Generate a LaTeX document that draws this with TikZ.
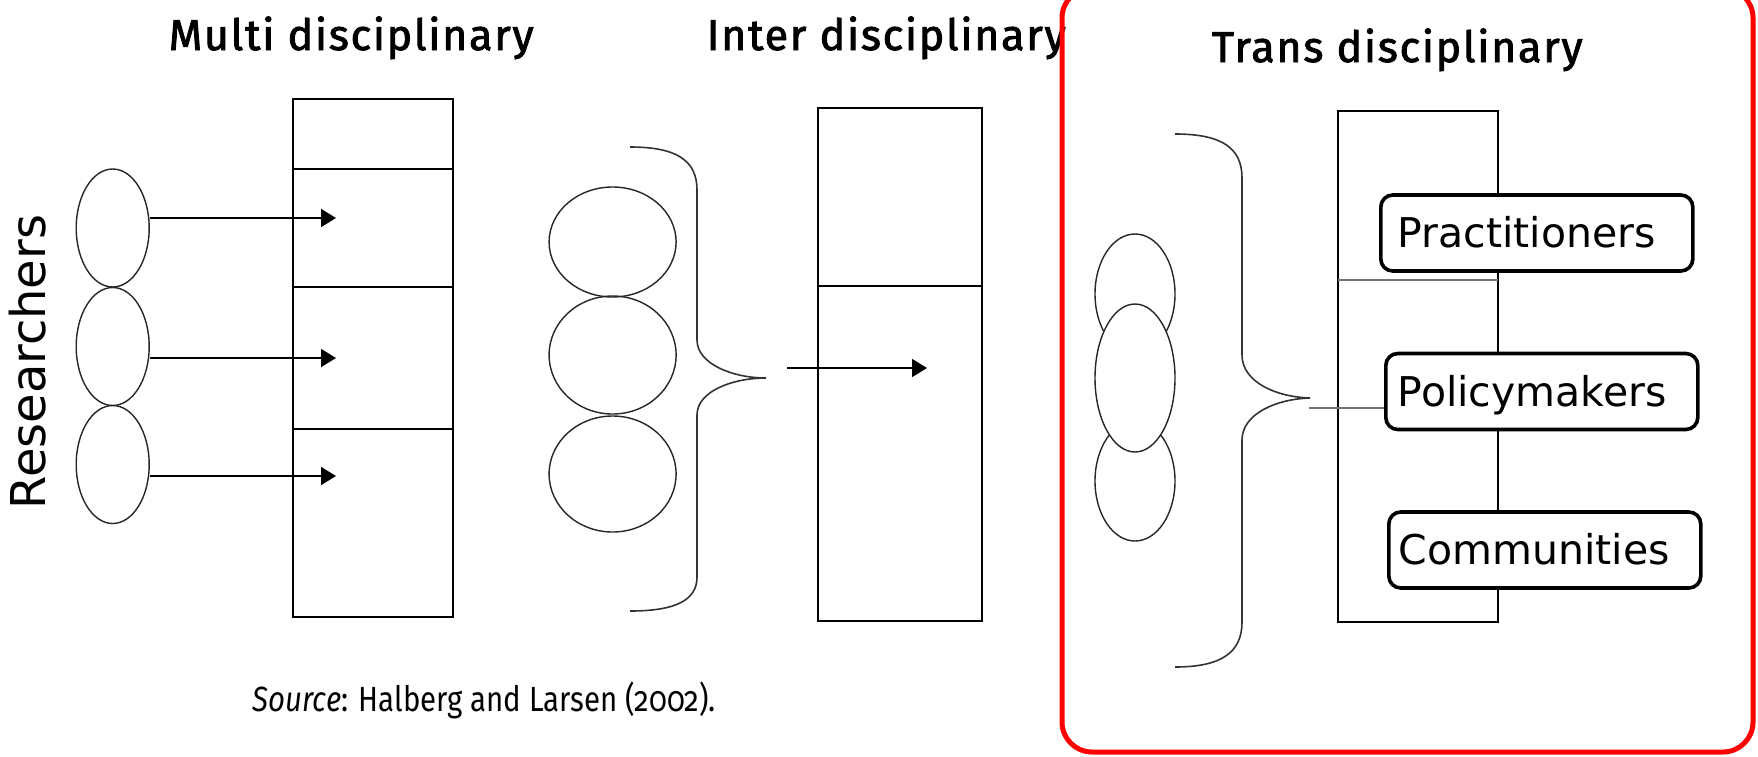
\documentclass[tikz,border=0pt]{standalone}
\usepackage{fontspec}
\usetikzlibrary{arrows.meta,shapes.geometric}
\newfontfamily\titlefont[FakeBold=2,LetterSpace=4]{Fira Sans}
\newfontfamily\srcfont[Numbers=OldStyle]{Fira Sans}
\newfontfamily\boxfont{DejaVu Sans}
\begin{document}
\begin{tikzpicture}[x=1pt,y=-1pt,line width=1.6pt,
  ttl/.style={anchor=base west,inner sep=0pt,font=\titlefont\fontsize{43}{50}\selectfont},
  ell/.style={ellipse,draw=black!85,line width=1.4pt,inner sep=0pt},
  colbox/.style={draw,rectangle,inner sep=0pt,line width=1.6pt},
  arr/.style={-{Triangle[length=15pt,width=18pt]},line width=1.6pt},
  rbox/.style={draw,line width=3.6pt,rounded corners=12pt,fill=white,minimum height=76pt,
    text height=30pt,text depth=1pt,align=left,anchor=west,
    font=\boxfont\fontsize{41}{49}\selectfont},
  brace/.style={line width=1.6pt,draw=black!80}]
\useasboundingbox (0,0) rectangle (1758,756);
\fill[white] (0,0) rectangle (1758,756);

% titles
\node[ttl] (tmulti) at (168,50) {Multi disciplinary};
\node[ttl] (tinter) at (706,50) {Inter disciplinary};
\node[ttl] (ttrans) at (1211,62) {Trans disciplinary};

% Researchers
\node[rotate=90,anchor=base,inner sep=0pt,font=\boxfont\fontsize{48}{56}\selectfont] (res) at (45,362) {Researchers};

% ---- Multi disciplinary ----
\node[colbox,minimum width=160pt,minimum height=518pt] (mbox) at (373,358) {};
\draw (293,169) -- (453,169);
\draw (293,287) -- (453,287);
\draw (293,429) -- (453,429);
\node[ell,minimum width=73pt,minimum height=118pt] (m1) at (112.7,228) {};
\node[ell,minimum width=73pt,minimum height=118pt] (m2) at (112.7,346.5) {};
\node[ell,minimum width=73pt,minimum height=118pt] (m3) at (112.7,464.5) {};
\coordinate (a1) at (336,218);
\coordinate (a2) at (336,358);
\coordinate (a3) at (336,476);
\draw[arr] (m1.east |- a1) -- (a1);
\draw[arr] (m2.east |- a2) -- (a2);
\draw[arr] (m3.east |- a3) -- (a3);

% ---- Inter disciplinary ----
\node[colbox,minimum width=164pt,minimum height=513pt] (ibox) at (900,364.5) {};
\draw (818,286) -- (982,286);
\node[ell,minimum width=127pt,minimum height=110pt] (i1) at (612.6,242) {};
\node[ell,minimum width=127pt,minimum height=118pt] (i2) at (612.6,355) {};
\node[ell,minimum width=127pt,minimum height=116pt] (i3) at (612.6,474) {};
\draw[brace] (630,147) .. controls (676,147) and (697,160) .. (697,190) -- (697,340)
  .. controls (697,364) and (733,378) .. (766,378)
  .. controls (733,378) and (697,391) .. (697,415) -- (697,577)
  .. controls (697,600) and (676,611) .. (630,611);
\coordinate (ia0) at (787,368);
\coordinate (ia1) at (927,368);
\draw[arr] (ia0) -- (ia1);

% ---- Trans disciplinary ----
\node[colbox,line width=1.4pt,minimum width=160pt,minimum height=511pt] (tbox) at (1418,366.5) {};
\draw[black!55,line width=1.6pt] (1338,280) -- (1498,280);
\node[ell,minimum width=80pt,minimum height=120pt] (t1) at (1135,294) {};
\node[ell,minimum width=80pt,minimum height=120pt] (t3) at (1135,481) {};
\node[ell,fill=white,minimum width=80pt,minimum height=148pt] (t2) at (1135,378) {};
\draw[brace] (1175,134) .. controls (1222,134) and (1242,148) .. (1242,178) -- (1242,355)
  .. controls (1242,382) and (1276,397) .. (1310,398)
  .. controls (1276,399) and (1242,414) .. (1242,440) -- (1242,622)
  .. controls (1242,652) and (1222,667) .. (1175,667);
\coordinate (ttip) at (1309,408);

\node[rbox,minimum width=312pt,inner xsep=17pt,text width=278pt] (prac) at (1379,233) {Practitioners};
\node[rbox,minimum width=312pt,inner xsep=12pt,text width=288pt] (pol) at (1384,391.5) {Policymakers};
\node[rbox,minimum width=312pt,inner xsep=10pt,text width=292pt] (com) at (1387,550) {Communities};
\draw[black!55,line width=1.6pt] (ttip) -- (ttip -| pol.west);

% source
\node[anchor=base west,inner sep=0pt,xscale=0.84,font=\srcfont\fontsize{35}{42}\selectfont] (src) at (252,711) {\textit{Source}: Halberg and Larsen (2002).};

% red frame
\node[draw=red,line width=5pt,rounded corners=30pt,minimum width=691pt,minimum height=764pt,inner sep=0pt] (frame) at (1407.5,370) {};
\end{tikzpicture}
\end{document}
